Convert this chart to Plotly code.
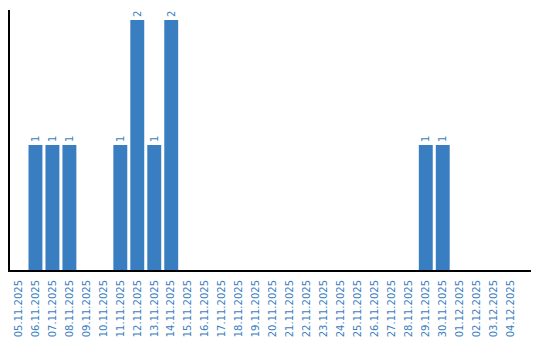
import plotly.graph_objects as go

dates = ["05.11.2025","06.11.2025","07.11.2025","08.11.2025","09.11.2025","10.11.2025",
         "11.11.2025","12.11.2025","13.11.2025","14.11.2025","15.11.2025","16.11.2025",
         "17.11.2025","18.11.2025","19.11.2025","20.11.2025","21.11.2025","22.11.2025",
         "23.11.2025","24.11.2025","25.11.2025","26.11.2025","27.11.2025","28.11.2025",
         "29.11.2025","30.11.2025","01.12.2025","02.12.2025","03.12.2025","04.12.2025"]
counts = [0,1,1,1,0,0,1,2,1,2,0,0,0,0,0,0,0,0,0,0,0,0,0,0,1,1,0,0,0,0]
labels = [str(c) if c > 0 else "" for c in counts]

blue = "#3a7ec2"
fig = go.Figure(go.Bar(
    x=dates, y=counts, text=labels, textposition="outside", textangle=-90,
    textfont=dict(family="DejaVu Sans", size=10, color=blue),
    marker=dict(color=blue, line=dict(width=0)), cliponaxis=False,
))
fig.update_layout(
    width=540, height=340, margin=dict(l=10, r=9, t=10, b=70, autoexpand=False),
    paper_bgcolor="white", plot_bgcolor="white", bargap=0.18, showlegend=False,
    font=dict(family="DejaVu Sans", size=10, color=blue),
)
fig.update_xaxes(type="category", range=[-0.5, 30.2], tickangle=-90, showline=True,
                 linecolor="black", linewidth=2, ticks="", showgrid=False, automargin=False,
                 tickfont=dict(family="DejaVu Sans", size=10, color=blue), ticklabelstandoff=4)
fig.update_yaxes(range=[0, 2.08], showline=True, linecolor="black", linewidth=2, automargin=False,
                 showticklabels=False, ticks="", showgrid=False, zeroline=False)
fig.write_html("out.html")
